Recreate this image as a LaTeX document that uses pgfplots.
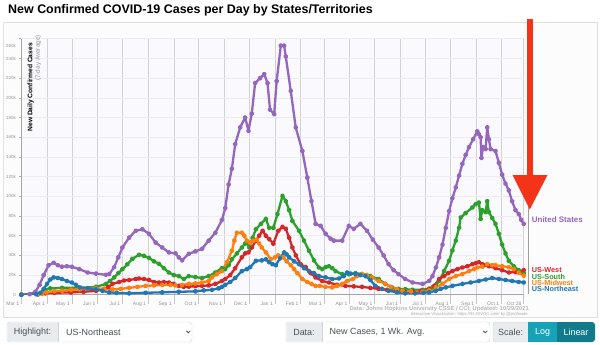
\documentclass[border=0pt]{standalone}
\usepackage{pgfplots}
\pgfplotsset{compat=1.18}
\usepackage{pgfplotstable}
\usepackage{fontspec}
\setmainfont{Liberation Sans}
\definecolor{cPurple}{HTML}{9467BD}
\definecolor{cGreen}{HTML}{2CA02C}
\definecolor{cRed}{HTML}{D62728}
\definecolor{cOrange}{HTML}{FF7F0E}
\definecolor{cBlue}{HTML}{1F77B4}
\definecolor{arrowred}{RGB}{244,52,24}
\definecolor{ctrlgray}{HTML}{E9ECEF}
\definecolor{ctrlborder}{HTML}{CED4DA}
\definecolor{ctrltext}{HTML}{495057}
\definecolor{tealA}{HTML}{17A2B8}
\definecolor{tealB}{HTML}{117A8B}
\definecolor{plotbg}{RGB}{250,249,253}

\pgfplotstableread{
d v
0 0
10 0.5
17 3
22 10
27 20
33 30
39 32.5
44 30
49 28.5
55 29
61 28.4
70 26
80 22.6
90 21.5
102 20.3
106 21
112 28
117 38
122 48
130 58
138 65
146 66.5
154 62
162 53
170 48
178 43
186 42
190 38
194 35
202 41.6
210 44
218 46.7
226 55
234 63
242 76
246 88
250 112
254 128
258 153
264 170
270 180
274 166.5
278 184
282 215
288 220
293 224
297 215
300 188
305 183.5
308 217
313 253
317 253
319 242
325 207
331 170
339 146
345 119
350 95
355 72
361 70
367 62
373 57
377 55
387 55
395 70
401 67
409 72
417 65
424 56
431 48
437 40
443 31
449 25
455 21
463 16
472 12.5
484 11
492 14
496 19
500 27.7
504 38
508 51
512 68
516 85
520 98
524 109
528 121
532 133
536 142
540 150
545 158
550 166
552 163
554 160
555 139
557 150
560 148
562 170
564 158
566 148
572 146
576 134
580 122
584 113
588 106
592 95
596 86
600 82
603 76
606 72
}\usdata

\pgfplotstableread{
d v
0 0
20 0.5
25 2
29 5
35 6.5
49 7
70 7
90 8
102 11
107 14
112 17.6
117 22
122 26
128 31
134 36.5
142 40.6
148 39.5
154 37.5
160 34
166 31.5
172 27
178 22.6
184 20
190 19
196 16
202 19
210 18
218 17
226 19
234 22.6
242 27
246 26
250 30
254 36
260 42
266 48
270 52
272 53
275 48
279 58
283 66.7
289 72
295 77
299 68
304 68
309 82
315 100.5
319 95
323 86
327 75
335 65
341 55
347 44.7
353 35
359 27.7
363 26
367 28
371 29
375 27
379 24
387 21
395 21
403 22
411 21
421 19
431 16
439 11
447 7.5
455 6
463 5.7
472 5
484 5
492 6
496 7.5
500 10
504 14
510 24
516 34.5
520 45
524 55
528 68
530 78.5
536 83
544 88.6
548 92
552 93.7
554 77
556 86
560 84
562 95
564 84
568 78
572 72
576 62
580 51
584 42
588 34.5
594 29
600 25
606 22
}\southdata

\pgfplotstableread{
d v
0 0
20 0.3
29 1.5
40 2
60 2.5
75 3
90 4
100 6
105 8
110 11
118 13
124 14.5
130 15
138 16
142 16.5
148 16
154 15
160 13
166 12.5
172 13
178 12.5
184 11
190 9
196 8
202 8.3
210 8.7
218 9
226 9.5
234 11
242 14
246 16
252 20
258 27
266 38
270 42
274 43
278 48
283 55
287 60
291 65
295 60
299 56.5
304 52
310 65
315 69
319 67
323 58
327 48
331 40
337 31
343 28
349 22
355 17.6
363 14
371 12.5
381 10
391 9
401 8.5
411 8
421 7
431 6
441 5
452 4
462 3.5
472 3.5
482 4
492 6
498 9
504 16
510 19
515 22
520 24
526 26
532 27.7
538 29
544 31
548 32
552 33
556 31
558 30
564 29
572 27
580 25
588 22.6
596 23
606 25
}\westdata

\pgfplotstableread{
d v
0 0
20 0.3
25 1
30 2.5
40 3.5
49 4
60 5
70 5.5
80 6
90 6.5
100 6
110 5.5
120 6
130 7
140 8
150 9
160 9.5
170 10
180 10
186 9.5
194 10
202 11
210 11.5
218 12.5
226 14
230 17.6
236 21
242 24
248 33
254 44.7
257 55
260 63
266 63
269 60
272 55
276 53
280 55
284 56
287 52
290 48
295 43
301 36
306 38
310 40
316 38
320 34
325 30
329 26
333 22
339 16
345 13
350 11
355 9
360 9
367 8
375 7.5
381 9
387 11
393 14
400 16
405 19
411 21
417 20
423 17.6
431 14
439 11
446 8
453 5.5
460 4
470 3.5
484 3
492 4.5
500 7.5
508 11
516 16
524 19
532 21
540 24
546 26
550 27.7
556 28.5
562 31
568 30
572 30
580 29
588 28
594 26
600 22.5
606 19.5
}\midwestdata

\pgfplotstableread{
d v
0 0
18 0.5
23 2
27 6
31 11
35 15.5
39 17.6
44 17
49 16
55 14
61 12.5
66 10
71 7.4
80 6.5
90 5.5
98 4
106 2.4
115 2
130 1.5
150 2
170 2.5
190 3
210 3.5
220 4.5
230 5
238 6.5
242 8
246 10
252 13
258 17
266 24
272 26
276 28
283 34.5
290 35
295 36
299 33
303 31
307 30
312 37
317 43
320 41
323 38
329 34
335 31
341 27
347 24
353 22
359 19
367 17.6
375 16
383 16.5
389 19
393 22.6
397 21.5
403 21
409 20
415 19
421 15
427 9
435 6
443 4
453 2.5
463 1.5
475 1.5
485 2
492 2.5
500 4
506 6
512 7.5
520 9
532 11
542 12.5
552 14
560 15.5
568 17
576 16
584 15
592 14
600 13
606 12.5
}\northeastdata

\begin{document}
\begin{tikzpicture}[x=1bp,y=1bp]
\path[use as bounding box] (0,0) rectangle (600,344);
\fill[white] (0,0) rectangle (600,344);
% panel
\draw[draw=black!12, fill=black!1] (3,27) rectangle (597,322);
% title
\node[anchor=base west, inner sep=0, font=\fontsize{12.5}{14}\selectfont\bfseries] at (8,330.5) {New Confirmed COVID-19 Cases per Day by States/Territories};

\begin{axis}[
  at={(25.7,50)}, anchor=south west,
  scale only axis, width=502.4bp, height=256bp,
  xmin=0, xmax=606, ymin=0, ymax=260,
  enlargelimits=false,
  axis background/.style={fill=plotbg},
  axis x line*=bottom, axis y line*=left,
  axis line style={gray!70, line width=0.8bp},
  tick align=outside,
  xtick={0,31,61,92,122,153,184,214,245,275,306,337,365,396,426,457,487,518,549,579,606},
  xticklabels={Mar 1,Apr 1,May 1,Jun 1,Jul 1,Aug 1,Sep 1,Oct 1,Nov 1,Dec 1,Jan 1,Feb 1,Mar 1,Apr 1,May 1,Jun 1,Jul 1,Aug 1,Sep 1,Oct 1,Oct 28},
  ytick={0,20,...,240},
  yticklabels={0,20k,40k,60k,80k,100k,120k,140k,160k,180k,200k,220k,240k},
  extra y ticks={260},
  extra y tick labels={260k},
  extra y tick style={yticklabel style={yshift=-7bp}},
  xtick style={draw=gray!45, line width=0.7bp, /pgfplots/major tick length=9bp},
  ytick style={draw=gray!60, line width=0.6bp, /pgfplots/major tick length=2.5bp},
  xticklabel style={font=\fontsize{5}{6}\selectfont, text=gray!85, anchor=north east, inner sep=0pt, xshift=-2bp, yshift=-3bp},
  yticklabel style={font=\fontsize{4.5}{5}\selectfont, text=gray!85, anchor=east, inner sep=0pt, xshift=-1bp},
  /pgf/number format/assume math mode=true,
  grid=major,
  x grid style={gray!35, line width=0.7bp},
  y grid style={black!7, line width=0.6bp},
  every axis plot/.append style={line width=2.3bp, mark=*, mark size=1.4bp, mark options={solid}, line join=round},
]
\addplot[cPurple] table[x=d,y=v] {\usdata};
\addplot[cGreen] table[x=d,y=v] {\southdata};
\addplot[cRed] table[x=d,y=v] {\westdata};
\addplot[cOrange] table[x=d,y=v] {\midwestdata};
\addplot[cBlue] table[x=d,y=v] {\northeastdata};
\end{axis}
% current-date line
\draw[gray!75, line width=0.9bp] (528.1,50) -- (528.1,306);

% y-axis title
\node[rotate=90, anchor=east, inner sep=0, font=\bfseries\fontsize{6.7}{7}\selectfont] at (30.7,301) {New Daily Confirmed Cases};
\node[rotate=90, anchor=east, inner sep=0, text=gray!80, font=\fontsize{6.4}{7}\selectfont] at (38.3,309) {(7-day Average)};

% source
\node[anchor=east, inner sep=0, text=gray!55, font=\bfseries\fontsize{5.8}{6}\selectfont] at (529,34.7) {Data: Johns Hopkins University CSSE / CCI; Updated: 10/29/2021};
\node[anchor=east, inner sep=0, text=gray!65, font=\fontsize{4.2}{5}\selectfont] at (528,29.6) {Interactive Visualization: https://91-DIVOC.com/ by @profwade};

% end labels
\begin{scope}[every node/.style={anchor=west, inner sep=0, font=\bfseries\fontsize{7.3}{7.3}\selectfont}]
\node[text=cPurple, font=\bfseries\fontsize{8}{8}\selectfont] at (531.7,124) {United States};
\node[text=cRed] at (531.7,74) {US-West};
\node[text=cGreen] at (531.7,67.5) {US-South};
\node[text=cOrange] at (531.7,61.3) {US-Midwest};
\node[text=cBlue] at (531.7,55.1) {US-Northeast};
\end{scope}

% red arrow
\fill[arrowred] (526.8,325) rectangle (532.8,168);
\fill[arrowred] (512.5,169) -- (547.5,169) -- (529.8,134.5) -- cycle;

% controls
\begin{scope}[every node/.style={inner sep=0, font=\fontsize{9}{10}\selectfont}]
% Highlight
\draw[draw=ctrlborder, fill=white, rounded corners=3] (7,2) rectangle (192,22);
\fill[ctrlgray, rounded corners=2.6] (7.4,2.4) rectangle (62,21.6);
\fill[white] (58,2.4) rectangle (62,21.6);
\draw[ctrlborder] (58,2) -- (58,22);
\node[text=ctrltext] at (32.5,12) {Highlight:};
\node[anchor=west, text=ctrltext] at (66,12) {US-Northeast};
\draw[ctrltext, line width=0.8bp] (186.3,13.2) -- (188.3,11.2) -- (190.3,13.2);
% Data
\draw[draw=ctrlborder, fill=white, rounded corners=3] (286,2) rectangle (490,22);
\fill[ctrlgray, rounded corners=2.6] (286.4,2.4) rectangle (326,21.6);
\fill[white] (322,2.4) rectangle (326,21.6);
\draw[ctrlborder] (322,2) -- (322,22);
\node[text=ctrltext] at (304,12) {Data:};
\node[anchor=west, text=ctrltext] at (329.5,12) {New Cases, 1 Wk. Avg.};
\draw[ctrltext, line width=0.8bp] (483.3,13.2) -- (485.3,11.2) -- (487.3,13.2);
% Scale
\draw[draw=ctrlborder, fill=ctrlgray, rounded corners=3] (493,2) rectangle (540,22);
\fill[tealA] (528.3,2) rectangle (557,22);
\fill[tealB, rounded corners=3] (557,2) rectangle (595,22);
\fill[tealB] (557,2) rectangle (562,22);
\node[text=ctrltext] at (510.6,12) {Scale:};
\node[text=white] at (542.6,12) {Log};
\node[text=white] at (576,12) {Linear};
\end{scope}
\end{tikzpicture}
\end{document}
